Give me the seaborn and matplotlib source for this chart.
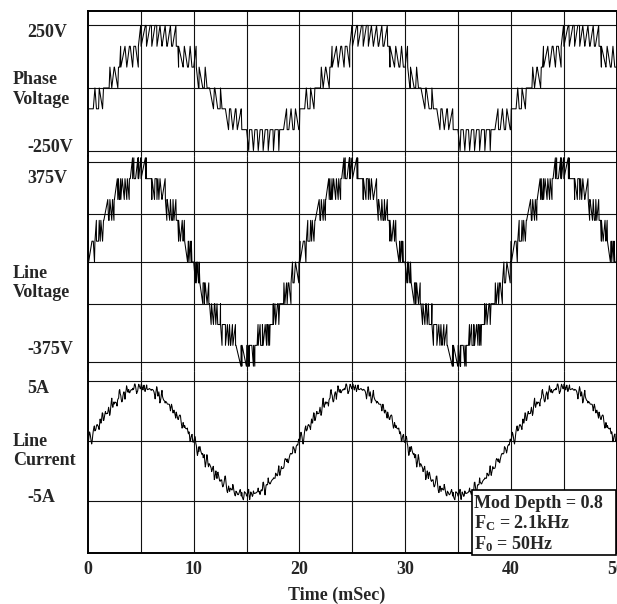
import numpy as np
import pandas as pd
import matplotlib
matplotlib.use("Agg")
import matplotlib.pyplot as plt
from matplotlib.patches import Rectangle
import seaborn as sns

# ---- inverter operating point (also quoted in the legend box) ----
MOD_DEPTH = 0.8
F_CARRIER_HZ = 2100.0
F_FUND_HZ = 50.0
N_CELLS = 3              # H-bridge cells per phase -> 7 output levels
CELL_DC_V = 91.0         # volts per output level
LOAD_L_H = 0.003         # load inductance that sets the current ripple
I_PEAK_A = 4.9           # fundamental line-current amplitude
SIM_STEP_MS = 0.002      # solver step
LOG_STEP_MS = 0.5        # recorder keep-alive grid (switching events are logged too)
CURRENT_LOG_MS = 0.05
T_END_MS = 50.0

# ---- axis text and reference lines ----
X_TICKS = [0, 10, 20, 30, 40, 50]
X_GRID_MS = [5, 10, 15, 20, 25, 30, 35, 40, 45]
PANEL_NAMES = ["Phase\nVoltage", "Line\nVoltage", "Line\nCurrent"]
PHASE_TICKS = [250, -250]
PHASE_TICK_LABELS = ["250V", "-250V"]
LINE_TICKS = [375, -375]
LINE_TICK_LABELS = ["375V", "-375V"]
CURRENT_TICKS = [5, -5]
CURRENT_TICK_LABELS = ["5A", "-5A"]
PHASE_GRID = [273, 0, -273]
LINE_GRID = [437, 210, 0, -183, -437]
CURRENT_GRID = [5.5, 0, -5.5]

# ---- PWM simulation (phase-disposition level-shifted carriers) ----
t_ms = np.arange(0.0, T_END_MS + SIM_STEP_MS / 2, SIM_STEP_MS)
t_s = t_ms / 1000.0
w = 2 * np.pi * F_FUND_HZ
carrier = np.abs((t_s * F_CARRIER_HZ) % 1.0 * 2.0 - 1.0)   # triangle, 0..1


def phase_levels(shift):
    ref = N_CELLS * MOD_DEPTH * np.sin(w * t_s + shift)
    out = np.full_like(ref, -float(N_CELLS))
    for band in range(-N_CELLS, N_CELLS):
        out += (ref > band + carrier)
    return out


la = phase_levels(-np.pi / 6)
lb = phase_levels(-5 * np.pi / 6)
lc = phase_levels(np.pi / 2)

phase_v = la * CELL_DC_V
line_v = (la - lb) * CELL_DC_V

# load current: fundamental plus ripple from the switching harmonics
v_load = (la - (la + lb + lc) / 3.0) * CELL_DC_V
v_load_ref = N_CELLS * MOD_DEPTH * CELL_DC_V * np.sin(w * t_s - np.pi / 6)
flux = np.cumsum(v_load - v_load_ref) * (SIM_STEP_MS / 1000.0) / LOAD_L_H
win = int(round(1.0 / (F_CARRIER_HZ * SIM_STEP_MS / 1000.0)))
kernel = np.ones(win) / win
ripple = flux - np.convolve(np.pad(flux, (win // 2, win - 1 - win // 2), mode="edge"),
                            kernel, mode="valid")
current = I_PEAK_A * np.sin(w * t_s) + ripple


def logged(y, step_ms):
    """Recorder output: the first point after each switching event plus a sparse keep-alive grid."""
    grid = np.arange(0, len(y), int(round(step_ms / SIM_STEP_MS)))
    events = np.flatnonzero(np.diff(y) != 0) + 1
    keep = np.union1d(np.union1d(grid, events), [len(y) - 1])
    return pd.DataFrame({"t": t_ms[keep], "v": y[keep]})


df_phase = logged(phase_v, LOG_STEP_MS)
df_line = logged(line_v, LOG_STEP_MS)
cur_idx = np.arange(0, len(current), int(round(CURRENT_LOG_MS / SIM_STEP_MS)))
df_current = pd.DataFrame({"t": t_ms[cur_idx], "v": current[cur_idx]})

# ---- styling ----
sns.set_theme(style="white")
plt.rcParams["font.family"] = ["Liberation Serif", "DejaVu Serif"]
plt.rcParams["font.weight"] = "bold"
plt.rcParams["mathtext.fontset"] = "custom"
plt.rcParams["mathtext.rm"] = "Liberation Serif"
plt.rcParams["mathtext.bf"] = "Liberation Serif:bold"
plt.rcParams["mathtext.it"] = "Liberation Serif:italic"
plt.rcParams["path.simplify"] = False

W, H = 617, 604
fig = plt.figure(figsize=(W / 100, H / 100), dpi=100)
fig.patch.set_facecolor("white")


def rect(top_px, bottom_px):
    return [88 / W, (H - bottom_px) / H, 528.5 / W, (bottom_px - top_px) / H]


panels = [
    dict(pos=rect(11, 156), data=df_phase, ylim=(-297, 336), grid=PHASE_GRID,
         ticks=PHASE_TICKS, labels=PHASE_TICK_LABELS),
    dict(pos=rect(156, 371), data=df_line, ylim=(-476, 463), grid=LINE_GRID,
         ticks=LINE_TICKS, labels=LINE_TICK_LABELS),
    dict(pos=rect(371, 553), data=df_current, ylim=(-10.2, 6.4), grid=CURRENT_GRID,
         ticks=CURRENT_TICKS, labels=CURRENT_TICK_LABELS),
]

axes = []
for i, p in enumerate(panels):
    ax = fig.add_axes(p["pos"])
    ax.set_facecolor("white")
    for g in p["grid"]:
        ax.axhline(g, color="#111111", lw=0.8, zorder=1)
    for g in X_GRID_MS:
        ax.axvline(g, color="#111111", lw=0.8, zorder=1)
    sns.lineplot(data=p["data"], x="t", y="v", ax=ax, color="black", lw=0.75,
                 estimator=None, sort=False, zorder=3)
    ax.set_xlim(0, T_END_MS)
    ax.set_ylim(*p["ylim"])
    ax.set_xlabel("")
    ax.set_ylabel("")
    ax.set_yticks(p["ticks"])
    ax.set_yticklabels(p["labels"])
    ax.tick_params(axis="y", length=0, pad=43.9, labelsize=13)
    for lab in ax.get_yticklabels():
        lab.set_horizontalalignment("left")
        lab.set_fontweight("bold")
    for side in ["left", "right", "top", "bottom"]:
        ax.spines[side].set_visible(False)
    ax.spines["left"].set_visible(True)
    ax.spines["right"].set_visible(True)
    if i == 0:
        ax.spines["top"].set_visible(True)
    if i == 2:
        ax.spines["bottom"].set_visible(True)
    for s in ax.spines.values():
        s.set_color("black")
        s.set_linewidth(1.4)
    if i < 2:
        ax.set_xticks([])
    else:
        ax.set_xticks(X_TICKS)
        ax.set_xticklabels([str(v) for v in X_TICKS])
        ax.tick_params(axis="x", length=0, pad=6, labelsize=13)
        for lab in ax.get_xticklabels():
            lab.set_fontweight("bold")
    axes.append(ax)

# panel names on the left
for name, yc in zip(PANEL_NAMES, [89.5, 283, 451]):
    fig.text(13 / W, (H - yc) / H, name, ha="left", va="center",
             fontsize=13, fontweight="bold")

fig.text(337 / W, (H - 595) / H, "Time (mSec)", ha="center", va="center",
         fontsize=13, fontweight="bold")

# operating-point box
axes[2].add_patch(Rectangle((472 / W, (H - 555) / H), 144 / W, 65 / H,
                            transform=fig.transFigure, clip_on=False,
                            facecolor="white", edgecolor="black", lw=1.2, zorder=10))
box_lines = [
    f"Mod Depth = {MOD_DEPTH:g}",
    f"F$_\\mathbf{{C}}$ = {F_CARRIER_HZ / 1000:g}kHz",
    f"F$_\\mathbf{{0}}$ = {F_FUND_HZ:g}Hz",
]
for txt, base in zip(box_lines, [508, 528, 549]):
    fig.text(474 / W, (H - base) / H, txt, ha="left", va="baseline",
             fontsize=13, fontweight="bold", zorder=11)

fig.savefig("out.png", dpi=100, facecolor="white")
